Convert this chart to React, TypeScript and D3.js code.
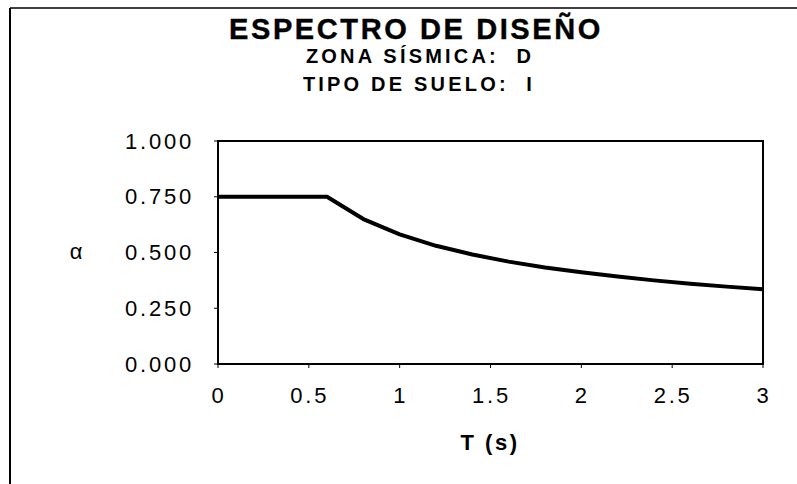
import React from "react";
import * as d3 from "d3";

const periods = [0, 0.6, 0.8, 1.0, 1.2, 1.4, 1.6, 1.8, 2.0, 2.2, 2.4, 2.6, 2.8, 3.0];
const alphaValues = [0.75, 0.75, 0.65, 0.581, 0.53, 0.491, 0.459, 0.433, 0.411, 0.392, 0.375, 0.36, 0.347, 0.335];
const xTicks = [0, 0.5, 1, 1.5, 2, 2.5, 3];
const yTicks = [0, 0.25, 0.5, 0.75, 1.0];
const titleLines = ["ESPECTRO DE DISEÑO", "ZONA SÍSMICA:  D", "TIPO DE SUELO:  I"];

const W = 797;
const H = 484;
const left = 218;
const right = 763;
const top = 141;
const bottom = 364;

export default function App() {
  const x = d3.scaleLinear().domain([0, 3]).range([left, right]);
  const y = d3.scaleLinear().domain([0, 1]).range([bottom, top]);
  const data = periods.map((t, i) => ({ t, a: alphaValues[i] }));
  const line = d3
    .line<{ t: number; a: number }>()
    .x((d) => x(d.t))
    .y((d) => y(d.a));
  const font = "'Liberation Sans', Arial, sans-serif";
  return (
    <div style={{ position: "fixed", left: 0, top: 0 }}>
      <svg width={W} height={H} style={{ display: "block", background: "#fff" }}>
        <rect x={0} y={0} width={W} height={H} fill="#fff" />
        {/* outer frame */}
        <line x1={10} y1={8} x2={W} y2={8} stroke="#000" strokeWidth={1.5} />
        <line x1={10} y1={8} x2={10} y2={H} stroke="#000" strokeWidth={2} />
        {/* titles */}
        <text x={416} y={39} textAnchor="middle" fontFamily={font} fontWeight="bold" fontSize={29} letterSpacing={2.6} fill="#000" stroke="#000" strokeWidth={0.4}>
          {titleLines[0]}
        </text>
        <text x={420} y={63} textAnchor="middle" fontFamily={font} fontWeight="bold" fontSize={20} letterSpacing={3.2} fill="#000" style={{ whiteSpace: "pre" }}>
          {titleLines[1]}
        </text>
        <text x={419} y={91} textAnchor="middle" fontFamily={font} fontWeight="bold" fontSize={20} letterSpacing={3.2} fill="#000" style={{ whiteSpace: "pre" }}>
          {titleLines[2]}
        </text>
        {/* plot frame */}
        <rect x={left} y={top} width={right - left} height={bottom - top} fill="none" stroke="#000" strokeWidth={2} />
        {/* y ticks and labels */}
        {yTicks.map((v) => (
          <g key={"y" + v}>
            <line x1={left - 4} x2={left} y1={y(v)} y2={y(v)} stroke="#000" strokeWidth={1} />
            <text x={194} y={y(v)} dy="0.35em" textAnchor="end" fontFamily={font} fontSize={22} letterSpacing={2.8} fill="#000">
              {d3.format(".3f")(v)}
            </text>
          </g>
        ))}
        {/* x ticks and labels */}
        {xTicks.map((v) => (
          <g key={"x" + v}>
            <line x1={x(v)} x2={x(v)} y1={bottom} y2={bottom + 4} stroke="#000" strokeWidth={1} />
            <text x={x(v) + 1} y={395} dy="0.35em" textAnchor="middle" fontFamily={font} fontSize={22} letterSpacing={2.8} fill="#000">
              {String(v)}
            </text>
          </g>
        ))}
        {/* axis titles */}
        <text x={76} y={251} dy="0.35em" textAnchor="middle" fontFamily={font} fontSize={22} fill="#000">
          α
        </text>
        <text x={490} y={442} dy="0.35em" textAnchor="middle" fontFamily={font} fontWeight="bold" fontSize={22} letterSpacing={2.5} fill="#000" style={{ whiteSpace: "pre" }}>
          T (s)
        </text>
        {/* curve */}
        <path d={line(data) || ""} fill="none" stroke="#000" strokeWidth={4} strokeLinejoin="round" />
      </svg>
    </div>
  );
}
